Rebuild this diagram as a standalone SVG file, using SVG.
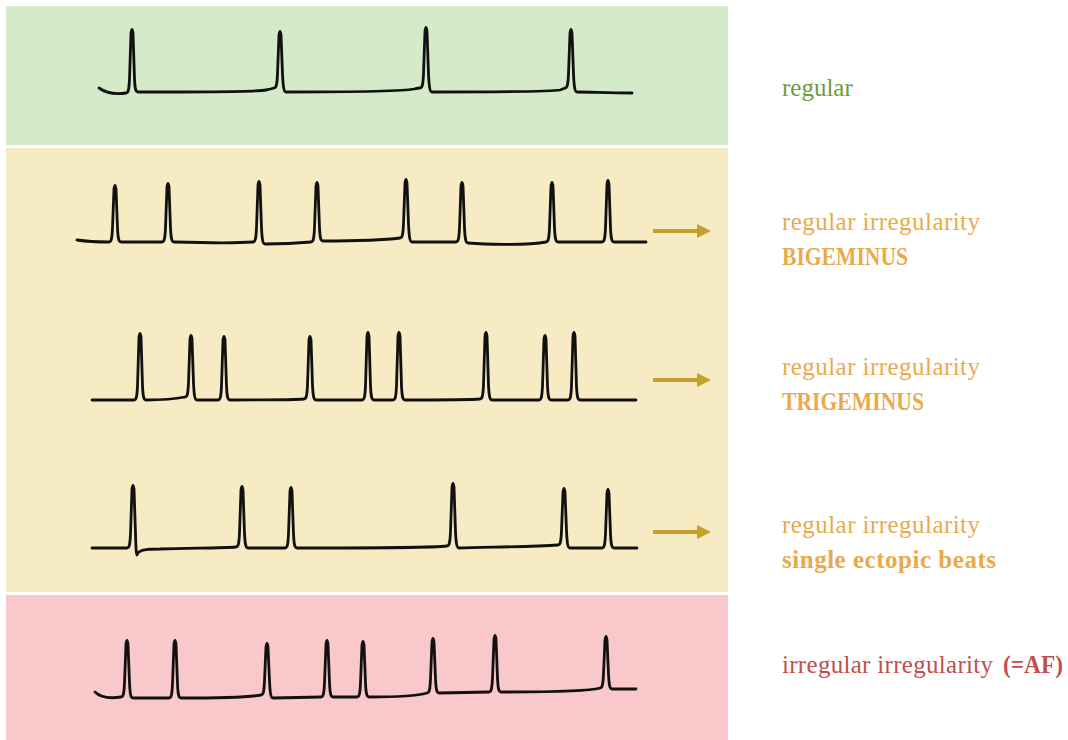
<svg xmlns="http://www.w3.org/2000/svg" width="1068" height="740" viewBox="0 0 1068 740">
<style>
.bg{stroke:none}
.ecg{fill:none;stroke:#111;stroke-width:2.8;stroke-linejoin:round;stroke-linecap:round}
.lbl{font-family:"Liberation Serif","Times New Roman",serif;font-size:25px}
.b{font-weight:bold}
.g{fill:#6f9a3e}
.o{fill:#eaaa4c}
.r{fill:#c0504d}
.arr{stroke:#c6a02e;stroke-width:4;fill:none}
</style>
<defs>
<marker id="ah" markerUnits="userSpaceOnUse" markerWidth="15" markerHeight="16" refX="0" refY="7" orient="auto">
<path d="M0,0 L14,7 L0,14 z" fill="#bfa22a"/>
</marker>
</defs>
<rect width="1068" height="740" fill="#ffffff"/>

<g id="row-regular">
<rect class="bg" x="6" y="6" width="722" height="139" fill="#d5eac8"/>
<path class="ecg" d="M99,88 C106,93 114,95 126,93 c2.5,0 3,-4 3.5,-14 l1.5,-46 q1,-7 2,0 l1.5,46 c0.5,10 1,13 3.5,13 C190,92 255,92 266,90 Q271,89 274,88 c2.5,0 3,-4 3.5,-14 l1.5,-39 q1,-7 2,0 l1.5,39 c0.5,10 1,18 3.5,18 C340,92 405,91 414,89 Q418,88 420,88 c2.5,0 3,-4 3.5,-14 l1.5,-43 q1,-7 2,0 l1.5,43 c0.5,10 1,18 3.5,18 C490,92 550,92 560,90 Q563,89 565,88 c2.5,0 3,-4 3.5,-14 l1.5,-41 q1,-7 2,0 l1.5,41 c0.5,10 1,18 3.5,18 C590,92 610,93 632,93"/>
<text class="lbl g" x="782" y="96">regular</text>
</g>

<rect class="bg" x="6" y="148" width="722" height="444" fill="#f6ebc2"/>

<g id="row-bigeminus">
<path class="ecg" d="M77,240 C90,242 100,242 109,242 c2.5,0 3,-4 3.5,-14 l1.5,-39 q1,-7 2,0 l1.5,39 c0.5,10 1,14 3.5,14 L162,242 c2.5,0 3,-4 3.5,-14 l1.5,-41 q1,-7 2,0 l1.5,41 c0.5,10 1,14 3.5,14 C210,243 240,243 253,242 c2.5,0 3,-4 3.5,-14 l1.5,-43 q1,-7 2,0 l1.5,43 c0.5,10 1,16 3.5,16 C285,244 300,243 311,242 c2.5,0 3,-4 3.5,-14 l1.5,-42 q1,-7 2,0 l1.5,42 c0.5,10 1,13 3.5,13 C350,241 385,240 400,238 c2.5,0 3,-4 3.5,-14 l1.5,-41 q1,-7 2,0 l1.5,41 c0.5,10 1,18 3.5,18 L456,242 c2.5,0 3,-4 3.5,-14 l1.5,-42 q1,-7 2,0 l1.5,42 c0.5,10 1,15 3.5,15 C490,245 530,245 546,242 c2.5,0 3,-4 3.5,-14 l1.5,-42 q1,-7 2,0 l1.5,42 c0.5,10 1,14 3.5,14 L602,242 c2.5,0 3,-4 3.5,-14 l1.5,-44 q1,-7 2,0 l1.5,44 c0.5,10 1,14 3.5,14 L646,242"/>
<text class="lbl o" x="782" y="230" textLength="198">regular irregularity</text>
<text class="lbl o b" x="782" y="265" textLength="126" lengthAdjust="spacingAndGlyphs">BIGEMINUS</text>
</g>

<g id="row-trigeminus">
<path class="ecg" d="M92,400 C110,400 125,400 134,400 c2.5,0 3,-4 3.5,-14 l1.5,-49 q1,-7 2,0 l1.5,49 c0.5,10 1,14 3.5,14 C160,400 175,399 185,397 c2.5,0 3,-4 3.5,-14 l1.5,-44 q1,-7 2,0 l1.5,44 c0.5,10 1,17 3.5,17 L218,400 c2.5,0 3,-4 3.5,-14 l1.5,-46 q1,-7 2,0 l1.5,46 c0.5,10 1,14 3.5,14 C270,400 295,400 304,399 c2.5,0 3,-4 3.5,-14 l1.5,-45 q1,-7 2,0 l1.5,45 c0.5,10 1,15 3.5,15 L362,400 c2.5,0 3,-4 3.5,-14 l1.5,-50 q1,-7 2,0 l1.5,50 c0.5,10 1,14 3.5,14 L393,400 c2.5,0 3,-4 3.5,-14 l1.5,-50 q1,-7 2,0 l1.5,50 c0.5,10 1,14 3.5,14 C440,400 470,400 480,399 c2.5,0 3,-4 3.5,-14 l1.5,-49 q1,-7 2,0 l1.5,49 c0.5,10 1,15 3.5,15 L539,400 c2.5,0 3,-4 3.5,-14 l1.5,-47 q1,-7 2,0 l1.5,47 c0.5,10 1,14 3.5,14 L568,400 c2.5,0 3,-4 3.5,-14 l1.5,-50 q1,-7 2,0 l1.5,50 c0.5,10 1,14 3.5,14 L636,400"/>
<text class="lbl o" x="782" y="375" textLength="198">regular irregularity</text>
<text class="lbl o b" x="782" y="410" textLength="142" lengthAdjust="spacingAndGlyphs">TRIGEMINUS</text>
</g>

<g id="row-ectopic">
<path class="ecg" d="M92,548 L127,548 c2.5,0 3,-4 3.5,-14 l1.5,-45 q1,-7 2,0 l1.5,45 c0.3,10 0.6,21 1.5,21 C138,550 145,549 160,549 C200,548 225,548 236,547 c2.5,0 3,-4 3.5,-14 l1.5,-43 q1,-7 2,0 l1.5,43 c0.5,10 1,15 3.5,15 L285,548 c2.5,0 3,-4 3.5,-14 l1.5,-43 q1,-7 2,0 l1.5,43 c0.5,10 1,14 3.5,14 C380,548 430,548 447,546 c2.5,0 3,-4 3.5,-14 l1.5,-45 q1,-7 2,0 l1.5,45 c0.5,10 1,16 3.5,16 C480,547 530,547 558,545 c2.5,0 3,-4 3.5,-14 l1.5,-39 q1,-7 2,0 l1.5,39 c0.5,10 1,17 3.5,17 L602,548 c2.5,0 3,-4 3.5,-14 l1.5,-41 q1,-7 2,0 l1.5,41 c0.5,10 1,14 3.5,14 L637,548"/>
<text class="lbl o" x="782" y="533" textLength="198">regular irregularity</text>
<text class="lbl o b" x="782" y="568" textLength="214">single ectopic beats</text>
</g>

<g id="row-af">
<rect class="bg" x="6" y="595" width="722" height="145" fill="#f9c8ca"/>
<path class="ecg" d="M95,692 C100,697 108,699 121,697 c2.5,0 3,-4 3.5,-14 l1.5,-39 q1,-7 2,0 l1.5,39 c0.5,10 1,15 3.5,15 L169,698 c2.5,0 3,-4 3.5,-14 l1.5,-40 q1,-7 2,0 l1.5,40 c0.5,10 1,14 3.5,14 C220,698 250,697 261,695 c2.5,0 3,-4 3.5,-14 l1.5,-34 q1,-7 2,0 l1.5,34 c0.5,10 1,17 3.5,17 L321,697 c2.5,0 3,-4 3.5,-14 l1.5,-39 q1,-7 2,0 l1.5,39 c0.5,10 1,14 3.5,14 L357,697 c2.5,0 3,-4 3.5,-14 l1.5,-38 q1,-7 2,0 l1.5,38 c0.5,10 1,14 3.5,14 C400,697 420,695 427,693 c2.5,0 3,-4 3.5,-14 l1.5,-37 q1,-7 2,0 l1.5,37 c0.5,10 1,14 3.5,14 L489,692 c2.5,0 3,-4 3.5,-14 l1.5,-39 q1,-7 2,0 l1.5,39 c0.5,10 1,14 3.5,14 C550,692 590,691 600,688 c2.5,0 3,-4 3.5,-14 l1.5,-34 q1,-7 2,0 l1.5,34 c0.5,10 1,15 3.5,15 L636,689"/>
<text class="lbl r" x="782" y="673"><tspan textLength="211">irregular irregularity</tspan><tspan class="b" x="1003" textLength="60" lengthAdjust="spacingAndGlyphs">(=AF)</tspan></text>
</g>

<g id="connectors">
<line class="arr" x1="653" y1="231" x2="697" y2="231" marker-end="url(#ah)"/>
<line class="arr" x1="653" y1="380" x2="697" y2="380" marker-end="url(#ah)"/>
<line class="arr" x1="653" y1="532" x2="697" y2="532" marker-end="url(#ah)"/>
</g>
</svg>
